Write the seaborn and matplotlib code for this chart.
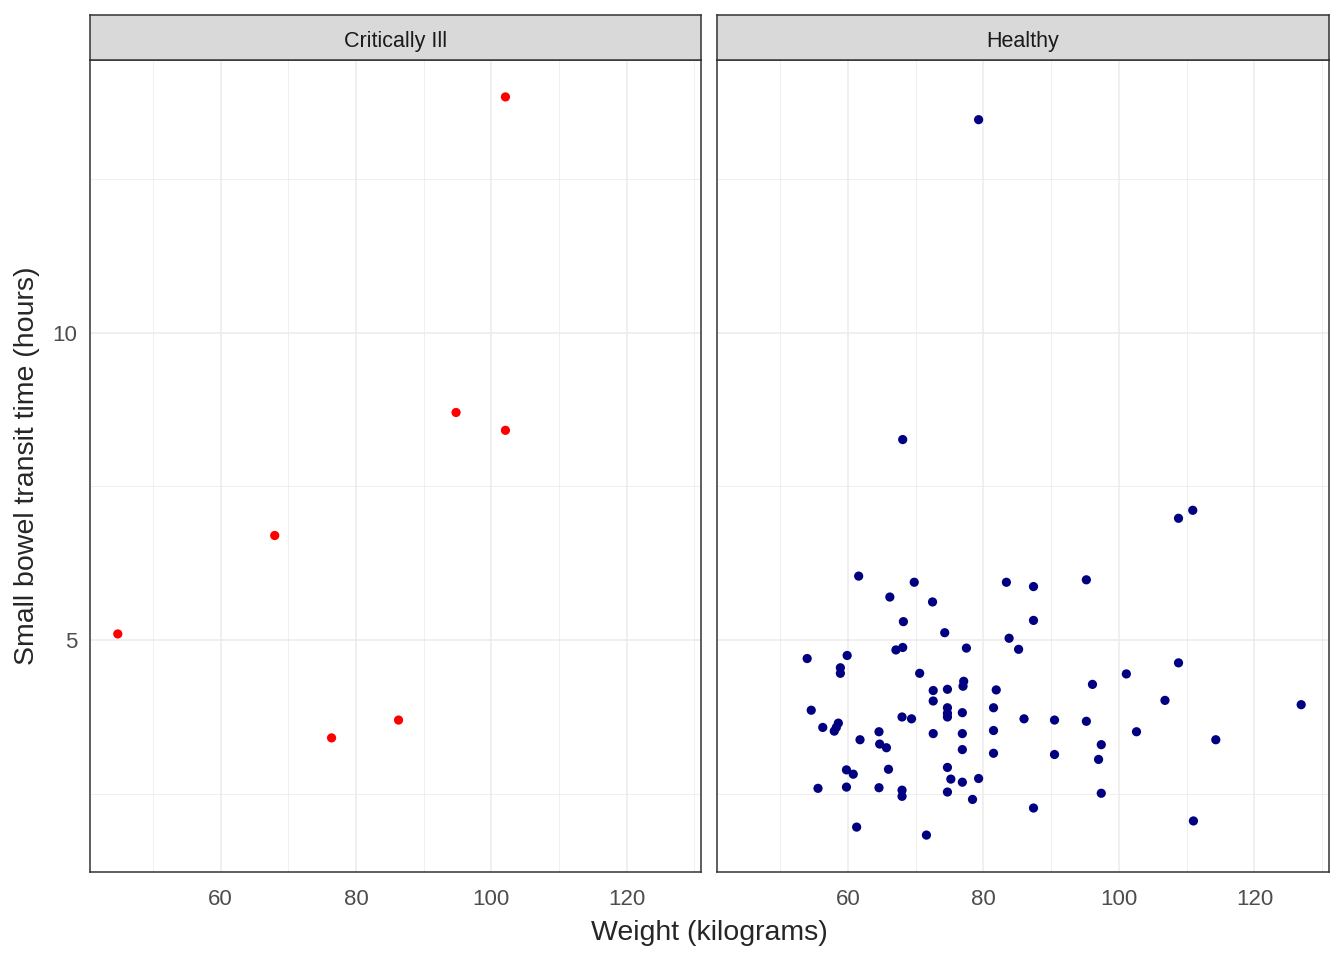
import numpy as np
import pandas as pd
import matplotlib
matplotlib.use("Agg")
import matplotlib.pyplot as plt
import seaborn as sns

# Critically ill patients
ill_weight = [102.1, 94.8, 102.1, 68.0, 44.8, 86.3, 76.4]
ill_transit = [13.83, 8.70, 8.41, 6.70, 5.10, 3.70, 3.41]

# Healthy volunteers
healthy_weight = [
    79.3, 68.1, 108.8, 110.9,
    61.6, 69.8, 66.2, 72.5, 68.2, 74.3, 83.4, 87.4, 87.4, 83.8,
    85.2, 67.1, 68.1, 77.5, 54.0, 59.9, 58.9, 58.9, 70.6, 72.6,
    72.6, 74.7, 77.1, 77.0, 81.9, 54.6, 56.3, 58.6, 58.3, 58.0,
    61.8, 68.0, 69.4, 74.7, 74.7, 74.7, 76.9, 81.5, 86.0, 90.5,
    64.6, 64.7, 65.7, 72.6, 76.9, 81.5, 76.9, 81.5, 90.5, 59.8,
    60.8, 66.0, 74.7, 75.2, 76.9, 79.3, 55.6, 59.8, 64.6, 68.0,
    68.0, 74.7, 78.4, 87.4, 61.3, 71.6,
    95.2, 108.8, 101.1, 96.1, 106.8, 126.9, 95.2, 102.6, 97.4,
    97.0, 114.3, 97.4, 111.0,
]
healthy_transit = [
    13.46, 8.26, 6.98, 7.11,
    6.04, 5.94, 5.70, 5.62, 5.30, 5.12, 5.94, 5.87, 5.32, 5.03,
    4.85, 4.84, 4.88, 4.87, 4.70, 4.75, 4.55, 4.46, 4.46, 4.18,
    4.01, 4.20, 4.33, 4.25, 4.19, 3.86, 3.58, 3.65, 3.58, 3.52,
    3.38, 3.75, 3.72, 3.90, 3.81, 3.75, 3.82, 3.90, 3.72, 3.70,
    3.51, 3.31, 3.25, 3.48, 3.48, 3.53, 3.22, 3.16, 3.14, 2.89,
    2.82, 2.90, 2.93, 2.74, 2.69, 2.75, 2.59, 2.61, 2.60, 2.56,
    2.46, 2.53, 2.41, 2.27, 1.96, 1.83,
    5.98, 4.63, 4.45, 4.28, 4.02, 3.95, 3.68, 3.51, 3.30,
    3.06, 3.38, 2.51, 2.06,
]

groups = ["Critically Ill", "Healthy"]
colors = {"Critically Ill": "red", "Healthy": "#000080"}

df = pd.concat([
    pd.DataFrame({"weight": ill_weight, "transit": ill_transit, "group": "Critically Ill"}),
    pd.DataFrame({"weight": healthy_weight, "transit": healthy_transit, "group": "Healthy"}),
])

sns.set_style("white")
plt.rcParams["font.family"] = ["Liberation Sans", "DejaVu Sans"]

W, H = 1344, 960
fig = plt.figure(figsize=(W / 100, H / 100), dpi=100)

# panel boxes in pixels: (left, right)
panels = [(90, 701), (717, 1329)]
top, strip_bot, bot = 15, 60, 872

xmin, xmax = df.weight.min(), df.weight.max()
xpad = (xmax - xmin) * 0.05
ymin, ymax = df.transit.min(), df.transit.max()
ypad = (ymax - ymin) * 0.05

for i, (g, (l, r)) in enumerate(zip(groups, panels)):
    ax = fig.add_axes([l / W, 1 - bot / H, (r - l) / W, (bot - strip_bot) / H])
    sub = df[df.group == g]
    sns.scatterplot(data=sub, x="weight", y="transit", color=colors[g], s=44,
                    edgecolor="none", ax=ax, zorder=3)
    ax.set_xlim(xmin - xpad, xmax + xpad)
    ax.set_ylim(ymin - ypad, ymax + ypad)
    ax.set_xticks([60, 80, 100, 120])
    ax.set_xticks([50, 70, 90, 110, 130], minor=True)
    ax.set_yticks([5, 10])
    ax.set_yticks([2.5, 7.5, 12.5], minor=True)
    ax.grid(True, which="major", color="#EBEBEB", linewidth=1.1)
    ax.grid(True, which="minor", color="#EBEBEB", linewidth=0.55)
    ax.set_axisbelow(True)
    for s in ax.spines.values():
        s.set_color("#333333")
        s.set_linewidth(1.1)
    ax.tick_params(which="major", length=4, width=1.0, color="#333333",
                   labelcolor="#4D4D4D", labelsize=16, pad=5)
    ax.tick_params(axis="x", which="major", pad=8)
    ax.tick_params(which="minor", length=0)
    ax.set_xlabel("")
    ax.set_ylabel("")
    if i == 1:
        ax.tick_params(axis="y", which="major", length=0, labelleft=False)

    # facet strip
    sax = fig.add_axes([l / W, 1 - strip_bot / H, (r - l) / W, (strip_bot - top) / H])
    sax.set_facecolor("#D9D9D9")
    sax.set_xticks([])
    sax.set_yticks([])
    for s in sax.spines.values():
        s.set_color("#333333")
        s.set_linewidth(1.1)
    sax.text(0.5, 0.42, g, ha="center", va="center", fontsize=15.5,
             color="#1A1A1A", transform=sax.transAxes)

fig.text((90 + 1329) / 2 / W, 1 - 933 / H, "Weight (kilograms)", ha="center",
         va="center", fontsize=20.5)
fig.text(27 / W, 1 - 466 / H, "Small bowel transit time (hours)", ha="center",
         va="center", rotation=90, fontsize=20.5)

fig.savefig("out.png", dpi=100)
